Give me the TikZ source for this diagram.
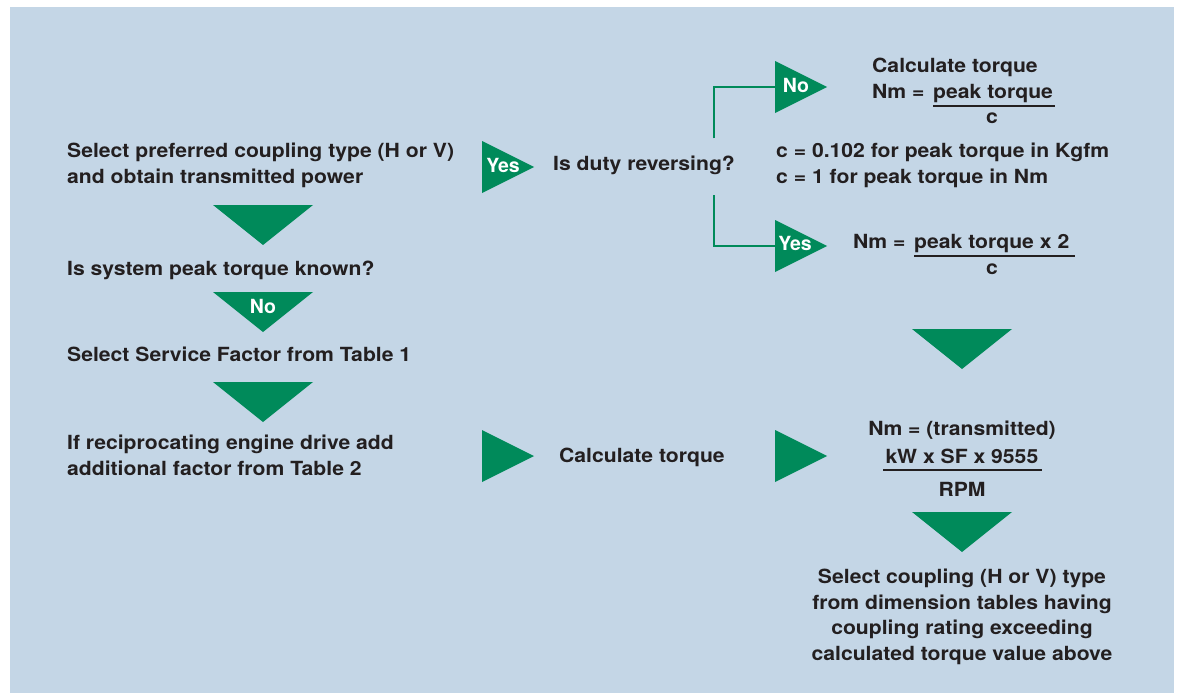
\documentclass[tikz,border=0pt]{standalone}
\usepackage{fontspec}
\setmainfont[FakeStretch=1.085]{TeX Gyre Heros}
\newfontfamily\tagfont{TeX Gyre Heros}
\definecolor{panelblue}{RGB}{196,214,230}
\definecolor{flowgreen}{RGB}{0,138,90}
\definecolor{inktext}{RGB}{35,31,32}

\begin{document}
\begin{tikzpicture}[x=1pt,y=-1pt,
    txt/.style={font=\fontsize{19.5}{25.5}\selectfont\bfseries,text=inktext,inner sep=0pt},
    tag/.style={font=\tagfont\fontsize{19.5}{25.5}\selectfont\bfseries,text=white,inner sep=0pt},
    link/.style={draw=flowgreen,line width=1.3pt},
    bar/.style={draw=inktext,line width=1.2pt}]
    % panel
    \useasboundingbox (0,0) rectangle (1180,693);
    \fill[panelblue] (10,7) rectangle (1174,693);
    % down arrows
    \foreach \cx/\ty in {263/205,263/292,263/382,962/329,962/512} {
        \fill[flowgreen] (\cx-50,\ty) -- (\cx+50,\ty) -- (\cx,\ty+40) -- cycle;
    }
    % right arrows
    \foreach \lx/\cy in {482/167,775/87,775/246,482/456,775/456} {
        \fill[flowgreen] (\lx,\cy-26) -- (\lx+52,\cy) -- (\lx,\cy+26) -- cycle;
    }
    % arrow tags
    \node[tag] (tagyes) at (503,165) {Yes};
    \node[tag] (tagno) at (263,306) {No};
    \node[tag] (tagnorev) at (796,85) {No};
    \node[tag] (tagyesrev) at (795,243) {Yes};
    % left column
    \node[txt,anchor=base west,align=left] (select) at (67,183) {Select preferred coupling type (H or V)\\and obtain transmitted power};
    \node[txt,anchor=base west] (known) at (67,275) {Is system peak torque known?};
    \node[txt,anchor=base west] (factor) at (67,361) {Select Service Factor from Table 1};
    \node[txt,anchor=base west,align=left] (engine) at (67,475) {If reciprocating engine drive add\\additional factor from Table 2};
    % middle column
    \node[txt,anchor=base west] (duty) at (553,170) {Is duty reversing?};
    \node[txt,anchor=base west] (calc) at (559,462) {Calculate torque};
    % not reversing
    \node[txt,anchor=base west] (calcpeak) at (872,72) {Calculate torque};
    \node[txt,anchor=base west] (nmone) at (872,98) {Nm =};
    \node[txt,anchor=base west] (peakone) at (933,98) {peak torque};
    \node[txt,anchor=base] (cone) at (992,123) {c};
    \draw[bar] (933,106) -- (1055,106);
    \node[txt,anchor=base west,align=left] (cvalues) at (776,183) {c = 0.102 for peak torque in Kgfm\\c = 1 for peak torque in Nm};
    % reversing
    \node[txt,anchor=base west] (nmtwo) at (853,248) {Nm =};
    \node[txt,anchor=base west] (peaktwo) at (914,248) {peak torque x 2};
    \node[txt,anchor=base] (ctwo) at (992,274) {c};
    \draw[bar] (914,256) -- (1075,256);
    % transmitted
    \node[txt,anchor=base] (nmthree) at (962,435) {Nm = (transmitted)};
    \node[txt,anchor=base] (kwsf) at (962,463) {kW x SF x 9555};
    \node[txt,anchor=base] (rpm) at (962,496) {RPM};
    \draw[bar] (883,470) -- (1042,470);
    \node[txt,anchor=base,align=center] (choose) at (962,660) {Select coupling (H or V) type\\from dimension tables having\\coupling rating exceeding\\calculated torque value above};
    % branches
    \coordinate (notip) at (775,87);
    \coordinate (yestip) at (775,246);
    \draw[link] ([xshift=-21pt,yshift=17pt]duty.north east) |- (notip);
    \draw[link] ([xshift=-21pt,yshift=-21pt]duty.south east) |- (yestip);
\end{tikzpicture}
\end{document}
